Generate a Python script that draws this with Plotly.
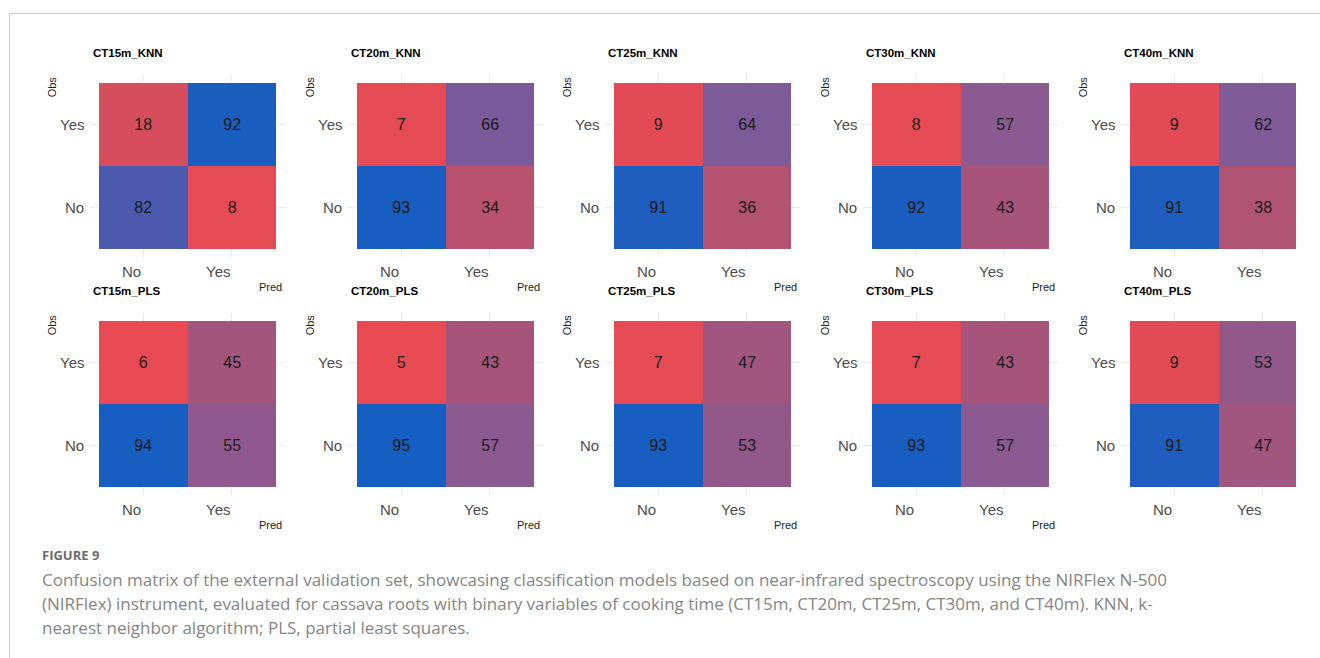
import plotly.graph_objects as go

# Confusion matrices (percent), rows = Obs [No, Yes], cols = Pred [No, Yes]
models = ["CT15m_KNN", "CT20m_KNN", "CT25m_KNN", "CT30m_KNN", "CT40m_KNN",
          "CT15m_PLS", "CT20m_PLS", "CT25m_PLS", "CT30m_PLS", "CT40m_PLS"]
classes = ["No", "Yes"]
obs_no = [[82, 8], [93, 34], [91, 36], [92, 43], [91, 38],
          [94, 55], [95, 57], [93, 53], [93, 57], [91, 47]]
obs_yes = [[18, 92], [7, 66], [9, 64], [8, 57], [9, 62],
           [6, 45], [5, 43], [7, 47], [7, 43], [9, 53]]

caption_head = "FIGURE 9"
caption_lines = [
    "Confusion matrix of the external validation set, showcasing classification models based on near-infrared spectroscopy using the NIRFlex N-500",
    "(NIRFlex) instrument, evaluated for cassava roots with binary variables of cooking time (CT15m, CT20m, CT25m, CT30m, and CT40m). KNN, k-",
    "nearest neighbor algorithm; PLS, partial least squares.",
]

W, H = 1320, 658
ZMIN, ZMAX = 5, 95
stops = [(5, "#E84A52"), (18, "#D64E5E"), (34, "#B8526F"), (38, "#B05272"),
         (43, "#A6547A"), (47, "#A0567E"), (53, "#93588A"), (57, "#8A5A90"),
         (62, "#805A96"), (66, "#7A5A9A"), (82, "#4B5AAE"), (92, "#1A5EC0"),
         (95, "#155EC2")]
colorscale = [[(v - ZMIN) / (ZMAX - ZMIN), c] for v, c in stops]

tile_left = [99, 357, 614, 872, 1130]
tile_top = [83, 321]
tile_w, tile_h = 177, 166
ux, uy = tile_w / 2, tile_h / 2
clip_x = 1296  # figure area ends here on the right

sans = "Liberation Sans, Arial"
tick_col = "#4D4D4D"

fig = go.Figure()
annotations = []
for k, name in enumerate(models):
    r, c = divmod(k, 5)
    idx = k + 1
    xa = "x" if idx == 1 else f"x{idx}"
    ya = "y" if idx == 1 else f"y{idx}"
    x0 = tile_left[c] - 0.1 * ux
    x1 = tile_left[c] + tile_w + 0.1 * ux
    y0 = tile_top[r] - 0.1 * uy
    y1 = tile_top[r] + tile_h + 0.1 * uy
    ax = dict(domain=[x0 / W, x1 / W], range=[-0.6, 1.6], tickvals=[0, 1],
              showticklabels=False, showgrid=True, gridcolor="#EBEBEB",
              gridwidth=1, zeroline=False, showline=False, ticks="",
              anchor=ya, fixedrange=True)
    ay = dict(domain=[1 - y1 / H, 1 - y0 / H], range=[-0.6, 1.6], tickvals=[0, 1],
              showticklabels=False, showgrid=True, gridcolor="#EBEBEB",
              gridwidth=1, zeroline=False, showline=False, ticks="",
              anchor=xa, fixedrange=True)
    fig.layout["xaxis" if idx == 1 else f"xaxis{idx}"] = ax
    fig.layout["yaxis" if idx == 1 else f"yaxis{idx}"] = ay

    z = [obs_no[k], obs_yes[k]]
    fig.add_trace(go.Heatmap(
        x=[0, 1], y=[0, 1], z=z, xaxis=xa, yaxis=ya,
        zmin=ZMIN, zmax=ZMAX, colorscale=colorscale, showscale=False,
        xgap=0, ygap=0, texttemplate="%{z}",
        textfont=dict(family=sans, size=16, color="#1A1A1A"),
        hoverinfo="skip"))

    xd, yd = f"{xa} domain", f"{ya} domain"
    # panel title
    annotations.append(dict(text=f"<b>{name}</b>", xref=xd, yref=yd, x=0, y=1,
                            xanchor="left", yanchor="middle", yshift=22, xshift=1,
                            showarrow=False,
                            font=dict(family=sans, size=11.5, color="#000000")))
    # axis titles
    annotations.append(dict(text="Obs", xref=xd, yref=yd, x=0, y=1, textangle=-90,
                            xanchor="center", yanchor="top", xshift=-38,
                            showarrow=False,
                            font=dict(family=sans, size=11, color="#222222")))
    if x1 < clip_x:
        annotations.append(dict(text="Pred", xref=xd, yref=yd, x=1, y=0,
                                xanchor="right", yanchor="middle", yshift=-30,
                                xshift=-1, showarrow=False,
                                font=dict(family=sans, size=11, color="#222222")))
    # tick labels
    for j, lab in enumerate(classes):
        annotations.append(dict(text=lab, xref=xd, yref=ya, x=0, y=j,
                                xanchor="right", yanchor="middle", xshift=-4,
                                showarrow=False,
                                font=dict(family=sans, size=15, color=tick_col)))
        annotations.append(dict(text=lab, xref=xa, yref=yd, x=j, y=0,
                                xanchor="right", yanchor="top", yshift=-4,
                                showarrow=False,
                                font=dict(family=sans, size=15, color=tick_col)))

# caption
annotations.append(dict(text=f"<b>{caption_head}</b>", xref="paper", yref="paper",
                        x=40 / W, y=1 - 555 / H, xanchor="left", yanchor="middle",
                        showarrow=False,
                        font=dict(family="Open Sans", size=13, color="#6B6B6B")))
for i, line in enumerate(caption_lines):
    annotations.append(dict(text=line, xref="paper", yref="paper",
                            x=40 / W, y=1 - (579 + 24 * i) / H,
                            xanchor="left", yanchor="middle", showarrow=False,
                            font=dict(family="Open Sans", size=17, color="#858585")))

shapes = [
    # right edge of the figure area is clipped
    dict(type="rect", xref="paper", yref="paper", x0=clip_x / W, x1=1.0,
         y0=1 - 540 / H, y1=1 - 20 / H, fillcolor="white", line=dict(width=0),
         layer="above"),
    # frame
    dict(type="line", xref="paper", yref="paper", x0=9.5 / W, x1=1.0,
         y0=1 - 13.5 / H, y1=1 - 13.5 / H, line=dict(color="#CCCCCC", width=1)),
    dict(type="line", xref="paper", yref="paper", x0=9.5 / W, x1=9.5 / W,
         y0=0, y1=1 - 13.5 / H, line=dict(color="#CCCCCC", width=1)),
]

fig.update_layout(width=W, height=H, margin=dict(l=0, r=0, t=0, b=0),
                  paper_bgcolor="white", plot_bgcolor="white",
                  annotations=annotations, shapes=shapes, showlegend=False)

fig.write_html("out.html")
